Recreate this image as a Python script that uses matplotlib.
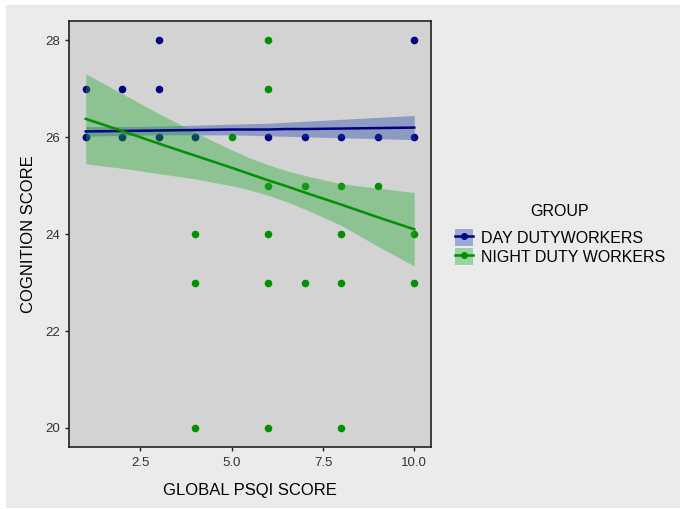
import matplotlib
matplotlib.use("Agg")
import matplotlib.pyplot as plt
from matplotlib.patches import Patch, Rectangle
from matplotlib.lines import Line2D

plt.rcParams['font.family'] = ['Liberation Sans', 'DejaVu Sans']

# ---- data ----
group_names = ["DAY DUTYWORKERS", "NIGHT DUTY WORKERS"]

day_x = [1, 1, 2, 2, 3, 3, 3, 4, 6, 7, 8, 9, 10, 10]
day_y = [27, 26, 27, 26, 28, 27, 26, 26, 26, 26, 26, 26, 28, 26]

night_x = [1, 2, 3, 4, 5, 6, 6, 6, 7, 8, 9, 4, 6, 8, 10, 4, 6, 7, 8, 10, 4, 6, 8]
night_y = [26, 26, 26, 26, 26, 28, 27, 25, 25, 25, 25, 24, 24, 24, 24,
           23, 23, 23, 23, 23, 20, 20, 20]

# fitted lines and confidence bands
fit_x = [1, 2, 3, 4, 5, 5.5, 6, 6.5, 7, 8, 9, 10]
day_fit = [26.12, 26.13, 26.14, 26.15, 26.16, 26.16, 26.16, 26.17, 26.17, 26.18, 26.19, 26.20]
day_lo = [26.02, 26.04, 26.05, 26.05, 26.05, 26.04, 26.03, 26.02, 26.01, 25.99, 25.97, 25.95]
day_hi = [26.22, 26.22, 26.23, 26.25, 26.27, 26.28, 26.29, 26.31, 26.33, 26.37, 26.41, 26.45]
night_fit = [26.38, 26.13, 25.87, 25.62, 25.37, 25.24, 25.11, 24.99, 24.86, 24.61, 24.35, 24.10]
night_lo = [25.45, 25.36, 25.25, 25.14, 25.00, 24.91, 24.80, 24.67, 24.52, 24.18, 23.75, 23.34]
night_hi = [27.31, 26.90, 26.49, 26.10, 25.74, 25.57, 25.43, 25.31, 25.21, 25.04, 24.95, 24.86]

x_ticks = [2.5, 5.0, 7.5, 10.0]
y_ticks = [20, 22, 24, 26, 28]

day_col = '#00007F'
night_col = '#008F00'
day_fill = '#2647AD'
night_fill = '#24AD35'

# ---- figure ----
fig = plt.figure(figsize=(6.8, 5.09), dpi=100, facecolor='white')
bg = Rectangle((6 / 680, 1 / 509), 1 - 6 / 680, 1 - 6 / 509,
               transform=fig.transFigure, facecolor='#EBEBEB',
               edgecolor='none', zorder=-10)
fig.patches.append(bg)

ax = fig.add_axes([69.3 / 680, 1 - 447.3 / 509, 361.4 / 680, 426.3 / 509])
ax.set_zorder(1)
ax.set_facecolor('#D3D3D3')

ax.scatter(night_x, night_y, s=30, color=night_col, linewidths=0, zorder=2)
ax.scatter(day_x, day_y, s=30, color=day_col, linewidths=0, zorder=2)

ax.fill_between(fit_x, day_lo, day_hi, color=day_fill, alpha=0.4, linewidth=0, zorder=3)
ax.fill_between(fit_x, night_lo, night_hi, color=night_fill, alpha=0.4, linewidth=0, zorder=3)
ax.plot(fit_x, day_fit, color=day_col, lw=1.8, zorder=4)
ax.plot(fit_x, night_fit, color=night_col, lw=1.8, zorder=4)

ax.set_xlim(0.55, 10.45)
ax.set_ylim(19.6, 28.4)
ax.set_xticks(x_ticks)
ax.set_xticklabels([f"{v:.1f}" for v in x_ticks])
ax.set_yticks(y_ticks)
ax.set_yticklabels([str(v) for v in y_ticks])
ax.tick_params(axis='both', length=3, width=1, color='#222222',
               labelsize=9.5, labelcolor='#333333', pad=4)
for sp in ax.spines.values():
    sp.set_color('#222222')
    sp.set_linewidth(1.2)

ax.set_xlabel("GLOBAL PSQI SCORE", fontsize=12, color='black', va='center')
ax.xaxis.set_label_coords(0.5, (447.3 - 490) / 426.3)
ax.set_ylabel("COGNITION SCORE", fontsize=12, color='black', va='center')
ax.yaxis.set_label_coords((29 - 69.3) / 361.4, 0.5)

handles = [
    (Patch(facecolor=day_fill, alpha=0.4, edgecolor='none'),
     Line2D([], [], color=day_col, lw=1.8, marker='o', markersize=4)),
    (Patch(facecolor=night_fill, alpha=0.4, edgecolor='none'),
     Line2D([], [], color=night_col, lw=1.8, marker='o', markersize=4)),
]
fig.text(560 / 680, 1 - 211.7 / 509, "GROUP", ha='center', va='center',
         fontsize=11.5, color='black')
leg = fig.legend(handles, group_names,
                 loc='center left', bbox_to_anchor=(455 / 680, 1 - 247.2 / 509),
                 frameon=False, fontsize=11.5,
                 handlelength=1.1, handleheight=1.2, handletextpad=0.5,
                 labelspacing=0.15, borderpad=0, borderaxespad=0)

fig.savefig("out.png", dpi=100, facecolor=fig.get_facecolor())
